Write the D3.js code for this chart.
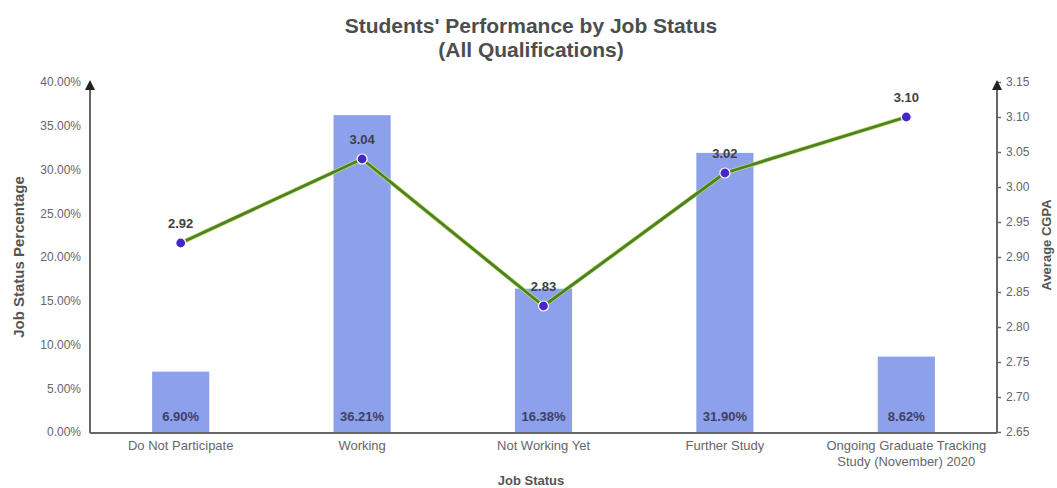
<!DOCTYPE html>
<html><head><meta charset="utf-8">
<script src="https://cdn.jsdelivr.net/npm/d3@7"></script>
<style>body{margin:0;background:#fff}svg{display:block}</style>
</head><body>
<svg id="c" width="1057" height="488"></svg>
<script>
const categories = ["Do Not Participate","Working","Not Working Yet","Further Study","Ongoing Graduate Tracking|Study (November) 2020"];
const jobPct = [6.90, 36.21, 16.38, 31.90, 8.62];
const avgCgpa = [2.92, 3.04, 2.83, 3.02, 3.10];
const leftTicks = [0,5,10,15,20,25,30,35,40];
const rightTicks = [2.65,2.70,2.75,2.80,2.85,2.90,2.95,3.00,3.05,3.10,3.15];

const svg = d3.select("#c");
const m = {l:90, r:997, t:82, b:432};
const font = "Liberation Sans, Arial, sans-serif";
const x = d3.scaleBand().domain(categories).range([m.l, m.r]).paddingInner(0.685).paddingOuter(0.3425);
const yL = d3.scaleLinear().domain([0,40]).range([m.b, m.t]);
const yR = d3.scaleLinear().domain([2.65,3.15]).range([m.b, m.t]);

const defs = svg.append("defs");
defs.append("marker").attr("id","arr").attr("viewBox","0 0 10 10").attr("refX",2).attr("refY",5)
  .attr("markerWidth",5).attr("markerHeight",5).attr("markerUnits","strokeWidth").attr("orient","auto")
  .append("path").attr("d","M0,0 L10,5 L0,10 Z").attr("fill","#222");

// title
svg.append("text").attr("x",531).attr("y",33).attr("text-anchor","middle").attr("font-family",font)
  .attr("font-size",21).attr("font-weight","bold").attr("fill","#4d4d4d").text("Students' Performance by Job Status");
svg.append("text").attr("x",531).attr("y",57).attr("text-anchor","middle").attr("font-family",font)
  .attr("font-size",21).attr("font-weight","bold").attr("fill","#4d4d4d").text("(All Qualifications)");

// bars
svg.selectAll("rect.bar").data(categories).join("rect").attr("class","bar")
  .attr("x",d=>x(d)).attr("width",x.bandwidth())
  .attr("y",(d,i)=>yL(jobPct[i])).attr("height",(d,i)=>m.b-yL(jobPct[i]))
  .attr("fill","#8da0eb");

// bar labels
svg.selectAll("text.bl").data(categories).join("text").attr("class","bl")
  .attr("x",d=>x(d)+x.bandwidth()/2).attr("y",m.b-11).attr("text-anchor","middle")
  .attr("font-family",font).attr("font-size",13).attr("font-weight","bold").attr("fill","#3d4066")
  .text((d,i)=>jobPct[i].toFixed(2)+"%");

// left axis
const gL = svg.append("g").attr("transform",`translate(${m.l},0)`)
  .call(d3.axisLeft(yL).tickValues(leftTicks).tickSize(0).tickPadding(9).tickFormat(d=>d.toFixed(2)+"%"));
gL.select(".domain").remove();
gL.selectAll("text").attr("font-family",font).attr("font-size",12).attr("fill","#666");

// right axis
const gR = svg.append("g").attr("transform",`translate(${m.r},0)`)
  .call(d3.axisRight(yR).tickValues(rightTicks).tickSize(4).tickPadding(5).tickFormat(d3.format(".2f")));
gR.select(".domain").remove();
gR.selectAll("line").attr("stroke","#666").attr("stroke-width",1.5);
gR.selectAll("text").attr("font-family",font).attr("font-size",12).attr("fill","#666");

// axis lines
svg.append("line").attr("x1",m.l).attr("x2",m.l).attr("y1",m.b+1).attr("y2",m.t+6)
  .attr("stroke","#666").attr("stroke-width",2).attr("marker-end","url(#arr)");
svg.append("line").attr("x1",m.r).attr("x2",m.r).attr("y1",m.b+1).attr("y2",m.t+6)
  .attr("stroke","#666").attr("stroke-width",2).attr("marker-end","url(#arr)");
svg.append("line").attr("x1",m.l).attr("x2",m.r).attr("y1",m.b+1).attr("y2",m.b+1)
  .attr("stroke","#666").attr("stroke-width",2);

// x axis labels
const gX = svg.append("g").attr("transform",`translate(0,${m.b+2})`)
  .call(d3.axisBottom(x).tickSize(0).tickPadding(0).tickFormat(""));
gX.select(".domain").remove();
gX.selectAll(".tick").each(function(d){
  const t = d3.select(this).append("text").attr("font-family",font).attr("font-size",13)
    .attr("fill","#666").attr("text-anchor","middle");
  d.split("|").forEach((s,i)=>t.append("tspan").attr("x",0).attr("y",16+i*16).text(s));
});

// axis titles
svg.append("text").attr("x",531).attr("y",485).attr("text-anchor","middle").attr("font-family",font)
  .attr("font-size",13).attr("font-weight","bold").attr("fill","#555").text("Job Status");
svg.append("text").attr("transform",`translate(24,${(m.t+m.b)/2}) rotate(-90)`).attr("text-anchor","middle")
  .attr("font-family",font).attr("font-size",15).attr("font-weight","bold").attr("fill","#555").text("Job Status Percentage");
svg.append("text").attr("transform",`translate(1051,${(m.t+m.b)/2-12}) rotate(-90)`).attr("text-anchor","middle")
  .attr("font-family",font).attr("font-size",13).attr("font-weight","bold").attr("fill","#555").text("Average CGPA");

// line
const line = d3.line().x((d,i)=>x(categories[i])+x.bandwidth()/2).y(d=>yR(d));
svg.append("path").datum(avgCgpa).attr("d",line).attr("fill","none")
  .attr("stroke","#c2dc5a").attr("stroke-width",4.2).attr("stroke-linejoin","round");
svg.append("path").datum(avgCgpa).attr("d",line).attr("fill","none")
  .attr("stroke","#4a7f2c").attr("stroke-width",2.8).attr("stroke-linejoin","round");
svg.selectAll("circle.pt").data(avgCgpa).join("circle").attr("class","pt")
  .attr("cx",(d,i)=>x(categories[i])+x.bandwidth()/2).attr("cy",d=>yR(d)).attr("r",5)
  .attr("fill","#4527c9").attr("stroke","#fff").attr("stroke-width",1.2);
svg.selectAll("text.pl").data(avgCgpa).join("text").attr("class","pl")
  .attr("x",(d,i)=>x(categories[i])+x.bandwidth()/2).attr("y",d=>yR(d)-15).attr("text-anchor","middle")
  .attr("font-family",font).attr("font-size",13).attr("font-weight","bold").attr("fill","#404040")
  .text(d=>d.toFixed(2));
</script>
</body></html>
